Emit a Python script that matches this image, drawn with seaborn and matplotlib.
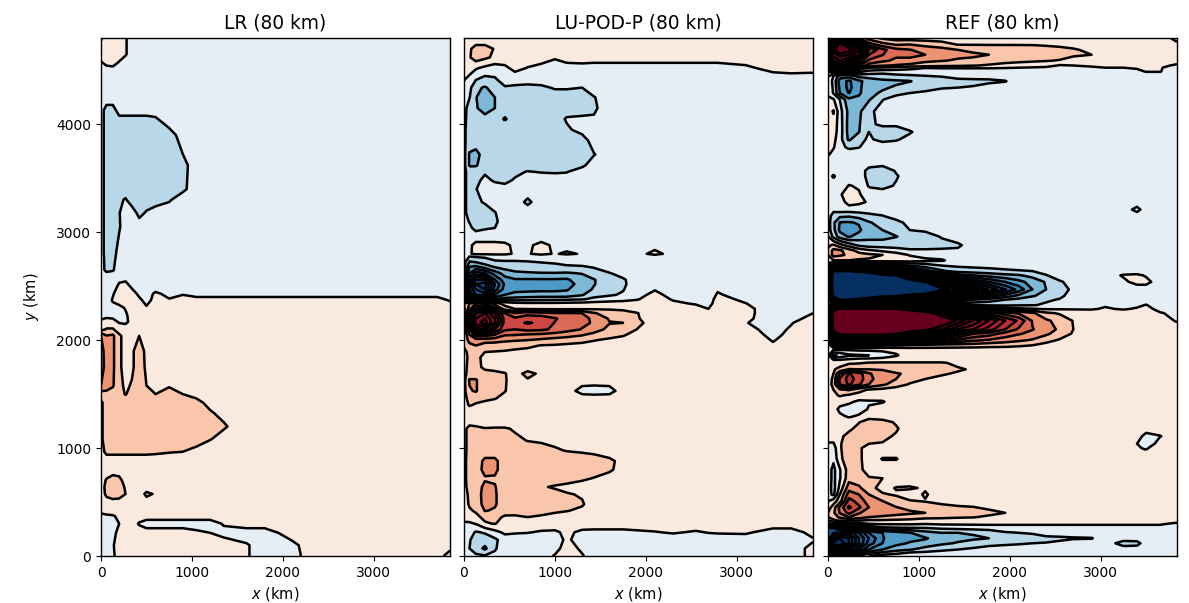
import numpy as np
import matplotlib
matplotlib.use("Agg")
import matplotlib.pyplot as plt
import seaborn as sns

p, n, s, b = .5, -.5, 1.5, -1.5

TITLES = ["LR (80 km)", "LU-POD-P (80 km)", "REF (80 km)"]
XTICKS = [0, 1000, 2000, 3000]
YTICKS = [0, 1000, 2000, 3000, 4000]
LEVELS = list(range(-12, 13))
BAND_SHADES = [.55, .64, .725, .785, .83, .865, .89, .91, .93, .945, .96, .975]

LR_X = [0, 60, 130, 200, 270, 340, 420, 500, 600, 750, 900, 1050, 1200, 1350, 1600, 1800, 2100, 2300, 3700, 3840]
LR_Z = {
    4800: [-.1, p, p, p, .1, n], 4650: [p, p, p, p, .1, n], 4570: [-.1, .2, .3, -.1, n], 4480: [n], 4230: [n],
    4130: [n, b, b, n], 4030: [n, b, b, b, b, b, b, b, -1.3, n], 3900: [n, b, b, b, b, b, b, b, b, b, n],
    3620: [n, b, b, b, b, b, b, b, b, b, -1.3, n], 3400: [n, b, b, b, b, b, b, b, b, b, -1.2, n],
    3300: [n, b, b, -1.2, -.9, b, b, b, b, -1.1, n], 3180: [n, b, b, -1.05, n, n, -1.3, -.9, n],
    3050: [n, b, b, -1.1, n], 2830: [n, b, -1.4, -.7, n], 2650: [n, -1.3, -1.1, n], 2600: [n],
    2490: [n, n, n, .3, p, -.1, n], 2430: [n, n, -.1, p, p, .4, -.2, n, .2, -.3, -.1, n],
    2370: [n, n, .1, p, p, p, .2, -.3, .3, .1, p, p, p, p, p, p, p, p, p, -.1],
    2300: [n, n, -.3, -.3, .1, p, p, .1, .3, p], 2230: [-.2, -.2, -.3, -.3, -.2, p],
    2170: [.1, .3, .3, -.1, -.2, .3, p], 2100: [.6, 1.1, 1.1, p],
    2040: [3, 2.05, 2.2, 1.2, .6, .6, 1.0, p], 1900: [3.6, 2.3, 2.2, 1.2, .6, .8, 1.6, .7, p],
    1750: [3.8, 2.3, 2.2, 1.2, .6, .8, 1.6, .8, p], 1580: [3, 2.15, 2.1, 1.3, .8, 1.1, 1.6, 1.0, .8, .95, p],
    1500: [1.5, 1.9, 1.6, 1.3, .95, 1.3, 1.6, 1.2, 1.0, 1.2, 1.0, .8, p],
    1420: [.8, s, s, s, s, s, s, s, s, s, s, 1.2, .8, p], 1320: [.8, s, s, s, s, s, s, s, s, s, s, s, 1.1, .8, p],
    1200: [.8, s, s, s, s, s, s, s, s, s, s, s, s, 1.1, p], 1085: [.8, s, s, s, s, s, s, s, s, s, s, 1.3, 1.05, .7, p],
    966: [.7, 1.2, 1.2, 1.2, 1.2, 1.2, 1.2, 1.2, 1.15, 1.05, 1.0, .8, p], 870: [p], 800: [p],
    700: [p, 1.1, 1.5, 1.3, .6, p], 640: [p, 1.3, 1.6, 1.4, .9, p], 575: [p, 1.2, 1.5, 1.4, 1.0, p, p, 1.2, .9, p],
    480: [p], 420: [p], 370: [n, -.2, -.1, .2, p],
    300: [n, n, n, 0, p, p, -.1, n, n, n, n, n, n, .1, p],
    215: [n, n, n, p, p, p, p, p, p, p, p, .2, 0, -.3, n, n, p],
    100: [n, n, -.1, *[p] * 11, .1, n, -.3, p],
    0: [n, n, -.2, *[p] * 11, .1, n, n, p, p, n],
}

LU_X = [0, 60, 130, 230, 340, 450, 560, 700, 850, 1000, 1130, 1300, 1430, 1600, 1750, 1900, 2100, 2300, 2550, 2690, 2790, 3100, 3400, 3600, 3840]
LU_Z = {
    4800: [p], 4770: [p], 4700: [p, .8, s, s, .9, p], 4620: [p, .9, s, 1.2, .8, p, p, p, p, .1, .3, p],
    4520: [p, p, .1, -.25, n, -.2, .25, -.05, -.35, n, -.3, -.4, *[n] * 9, -.2, .3, .45, .36],
    4420: [.1, -.3, -.9, -1.3, -1.1, n], 4340: [n, -.7, -1.8, -2.1, -1.6, -1.1, -1.2, -1.3, -1.2, -.9, -.9, -1, n],
    4250: [n, -.95, -1.95, -2.6, -2, b, b, b, b, b, b, b, -1.05, n], 4150: [-.6, b, -1.9, -2.4, -2, b, b, b, b, b, b, b, -1.15, n],
    4050: [-.7, b, b, -1.7, b, -2.1, b, b, b, b, -.9, -.8, -.9, n], 3950: [-.8, b, b, b, b, b, b, b, b, b, -1.15, -.7, n],
    3850: [-.8, b, b, b, b, b, b, b, b, b, b, -1.4, -.6, n], 3720: [-.7, -2.1, -2.3, -1.6, b, b, b, b, b, b, b, b, -1.05, n],
    3620: [-.7, -2.1, -2.1, b, b, b, b, b, b, b, b, -1.2, n], 3560: [-.7, b, -1.4, -1.1, -1.2, -1.3, -1.2, -.95, -1.05, -1.1, -1.05, n],
    3480: [-.7, b, -1.2, -.8, -1.1, -1.2, -.9, n], 3400: [-.7, b, -1.05, n, -.6, -.7, n], 3280: [-.7, b, -1.2, -.9, n, n, n, -1.2, n],
    3180: [-.7, b, -1.3, b, -1.05, n], 3100: [-.7, -1.05, -1.3, b, -1.2, n], 3040: [n, -.8, -1.3, -1.1, -1, n], 2960: [n],
    2880: [n, -.2, .3, .3, .3, .2, -.2, -.2, .3, -.2, n], 2800: [n, -.1, .2, .2, .2, .2, -.1, -.1, .3, -.1, .2, -.1, n, n, n, n, .4, n],
    2780: [n, -.9, -.8, -.8, n], 2730: [-.6, -2, -1.8, -1.4, -1.1, -1.05, -1.05, -1, -.9, -.8, n, n, n, n, n, n, -.05, n],
    2680: [-.7, -3, -3.2, -2.5, -1.9, -1.6, -1.5, -1.5, -1.4, -1.3, -1.2, -1.1, -.9, n],
    2620: [-.9, -4, -5.5, -5, -3.5, -2.6, -2.2, -2.1, -2.05, -2.05, -2.1, -1.95, -1.5, -1.05, -.7, n],
    2560: [-1, -5.5, -8, -8, -5, -3.4, -3.1, -3.1, -3.1, -3.1, -3.15, -2.4, -2.05, -1.5, -1.1, -.6, n],
    2520: [-1, -6, -9, -9.5, -6, -3.8, -3.3, -3.3, -3.3, -3.3, -3.3, -2.7, -2.05, -1.5, -1.1, -.7, n],
    2470: [-.9, -6, -8, -9, -5.5, -3.5, -3.2, -3.2, -3.2, -3.2, -3.1, -2.4, -1.9, -1.3, -1.05, n, -.05, n, n, n, -.1, n],
    2420: [-.7, -5, -7, -7.5, -4, -3, -2.8, -2.7, -2.6, -2.6, -2.6, -2.1, -1.3, -1.1, -.9, -.3, .25, -.3, n, n, .1, -.4, n],
    2380: [-.4, -3, -3, -3, -2, -1.6, -1.5, -1.4, -1.3, -1.3, -1.2, -1.1, -.8, -.6, -.4, -.1, p, -.1, -.4, -.4, .3, -.2, n],
    2340: [1, 2, 3, 3, 1.5, .6, .3, .2, .2, .2, .25, .3, .4, p, p, p, p, .2, -.1, -.3, .4, .02, n],
    2290: [.8, 2.5, 5, 6, 3.5, 1.5, 1, .9, .85, .85, .85, .85, .9, .9, .85, .6, p, p, .4, 0, p, .25, n],
    2250: [1, 4, 8, 9, 7, 4, 3.1, 3.6, 3.4, 3.1, 3.1, 3, 2.1, 1.5, 1.3, 1.05, p, p, p, p, p, .25, n, n, 0],
    2200: [1.5, 5, 9, 10, 8, 4.5, 4.2, 4.6, 4.6, 4.1, 3.6, 3.3, 2.8, 1.9, 1.4, 1.1, p, p, p, p, p, .2, n, -.3, .3],
    2160: [1.5, 5, 9.5, 10.5, 8, 4.5, 4.7, 5.1, 4.8, 3.95, 3.5, 3.2, 2.9, 2.05, 2, 1.3, p, p, p, p, p, .05, n, -.05, p],
    2100: [1.3, 4, 7.5, 8, 6, 4.2, 4, 4.3, 4.2, 3.8, 3.4, 2.95, 2.5, 1.7, 1.3, 1, p, p, p, p, p, .25, -.3, .1, p],
    2050: [1.1, 3, 4.5, 4.5, 4, 3.1, 3.05, 2.9, 2.8, 2.6, 2.4, 2.1, 1.7, 1.4, 1.1, .7, p, p, p, p, p, .4, -.2, .2, p],
    2000: [1, 2.5, 2.5, 2.5, 2.4, 2.2, 2.1, 2, 1.8, 1.6, 1.5, 1.3, 1.05, .8, .7, p, p, p, p, p, p, p, -.05, .3, p],
    1950: [1.05, 1.6, 2, 1.5, 1.5, 1.4, 1.3, 1.2, .95, .9, .8, .7, .6, p, p, p, p, p, p, p, p, p, .1, .4, p],
    1890: [.9, 1.1, 1.05, 1, .95, .9, .8, .7, p], 1840: [p, 1.3, 1.3, .7, p], 1750: [.7, 1.3, 1.3, .8, .7, .6, p],
    1690: [.7, 1.4, 1.4, 1.3, 1.2, 1.05, .6, 1.3, .8, p], 1630: [.7, 2.1, 2.1, 1.3, 1.3, 1.1, p, .9, p],
    1530: [.7, 1.9, 2.1, 1.3, 1.3, 1.05, p, p, p, p, p, -.4, n, -.4, p], 1460: [.7, 1.3, 1.3, 1.2, 1.05, .7, p],
    1400: [.6, 1.1, .9, .7, p], 1340: [p], 1240: [p], 1180: [.6, 1.5, 1.3, 1.05, 1.1, 1.1, .9, p],
    1070: [.6, s, s, s, s, s, 1.2, .97, .9, .8, p], 980: [.6, s, s, s, s, s, s, s, 1.3, 1.1, .95, .85, .7, p],
    880: [.7, s, s, 2.2, 2.2, s, s, s, s, s, s, s, s, 1.2, .7, p], 800: [.7, s, s, 2.3, 2.2, s, s, s, s, s, s, s, s, 1.2, p],
    720: [.7, s, s, 1.9, 1.9, s, s, s, s, s, s, 1.2, .95, p], 640: [.6, s, 1.6, 2.2, 2.05, s, s, 1.2, 1.1, .9, .7, p],
    570: [.6, 1.2, 1.6, 2.3, 2.1, s, s, s, s, 1.3, 1.1, .9, p], 480: [.6, 1.1, s, 2.3, 2.1, s, s, s, s, s, 1.4, 1.1, p],
    420: [p, .9, 1.1, 2.05, 1.9, 1.3, 1.25, 1.3, 1.25, 1.15, 1.05, .8, p], 360: [p, p, .8, 1.2, 1.2, .9, .9, 1, .9, .7, p],
    300: [-.2, -.15, .05, .9, 1.05, .6, p],
    220: [n, -.6, -1.1, -.9, -.3, .2, .1, .05, -.1, -.15, .2, -.2, -.25, -.25, -.25, -.15, -.05, .1, -.1, .05, .1, .15, -.4, -.4, .3],
    150: [n, -.9, b, b, -1.2, *[n] * 5, .2, *[n] * 13, -.1], 70: [n, -1, b, -2.2, -1.1, n, n, n, n, -.4, p, -.2, *[n] * 12, .3],
    0: [n, n, -.8, -.9, -.8, n, n, n, n, .1, p, .1, *[n] * 12, .3],
}

REF_X = [0, 60, 130, 230, 340, 450, 600, 750, 900, 1070, 1250, 1430, 1600, 1770, 1950, 2100, 2250, 2400, 2550, 2700, 2900, 3050, 3250, 3400, 3500, 3650, 3840]
REF_Z = {
    4800: [3, 5, 6, 5, 3, 1.5, .8, *[p] * 19, -.3],
    4740: [8, 10, 12.5, 11, 8, 3.5, 2.4, 1.9, 2, 1.7, 1.4, .95, .95, .95, .95, .95, .95, .9, .8, .7, p, p, p, p, p, p, .2],
    4690: [9, 11.5, 14, 12.5, 10, 6, 4.3, 3.3, 3.05, 2.6, 2.4, 2, 1.8, 1.55, 1.5, 1.45, 1.4, 1.3, 1.25, 1.1, .8, p],
    4645: [8, 10.5, 11.5, 11, 9, 5, 4.05, 3.2, 3.05, 3, 2.5, 2.2, 2.15, 2, 1.7, 1.6, 1.5, 1.4, 1.3, 1.2, 1, p],
    4590: [7, 9, 10, 9, 6, 3.8, 3.2, 2.8, 2.95, 2.2, 2.05, 1.9, 1.8, 1.45, 1.3, 1.2, 1.1, 1.05, .95, p],
    4545: [4, 7, 8, 6, 4, 2.5, 2.1, 1.9, 1.6, 1.5, 1.3, 1.2, 1.05, .9, .7, .6, .6, .4, -.1, 0, .1, .2, .2, .3, .3, .3, -.2],
    4525: [2, 4, 5, 3.5, 2, 1, .9, .7, .4, .05, .1, .1, .1, .1, .05, 0, -.1, -.2, n, n, -.1, 0, 0, .1, .1, .1, n],
    4490: [1, 2.5, 2, 1, .3, -.3, *[n] * 16, -.3, -.2, .05, .05, n],
    4450: [.2, -1, -2.5, -2.5, -1.6, -1.5, -1.5, -1.2, -1.1, -1, -.9, n],
    4400: [n, -1.2, -3.5, -4.2, -3.2, -2.6, -2.2, -2.15, -2.05, -1.6, -1.5, -1.4, -1.3, -1.25, -1.05, n],
    4340: [n, -1.1, -3.2, -4.3, -3.2, -2.4, -2.1, -1.9, -1.5, -1.3, -1.1, -1, -.9, n],
    4290: [-.1, -1.1, -3, -4.05, -3.2, -2.2, -1.9, -1.3, -1, -.85, n], 4230: [.1, .1, -1, -2.8, -2.7, -2.1, -1.05, n],
    4120: [p, 1.1, -.6, -2.3, -2.2, -1.3, n], 4000: [p, .6, n, -2.4, -2.1, -1.1, -.9, -.9, n],
    3930: [p, p, n, -2.4, -2.05, -1, -1.3, -1.3, -1.1, n], 3860: [p, .3, -.6, -2.2, -1.2, -.9, -1.2, -1.1, -.7, n],
    3790: [.3, .1, -.7, -1.2, -1.05, -.6, -.6, n], 3720: [.1, -.3, n], 3650: [n], 3570: [n, n, n, n, n, -1.3, -1.6, -.9, n],
    3520: [n, -1.15, n, n, n, -1.3, -1.6, -1.1, n], 3430: [n, n, n, .05, -.1, -1.1, -1.3, -.9, n], 3350: [n, n, -.1, .4, .1, n],
    3280: [n, n, n, .4, .2, -.1, n], 3210: [n, -.7, *[n] * 21, .3, n, n, n],
    3150: [n, -1.5, -1.8, -1.9, -1.6, -1.3, -1.05, -.6, n], 3090: [n, -1.8, -3.05, -3.1, -2.9, -2.1, -1.6, -1.3, -.7, n],
    3020: [n, -1.7, -3.2, -3.5, -3.2, -2.3, -2, -1.5, -1, -.9, -.7, n], 2960: [.1, -1.3, -2.5, -3.1, -2.6, -2.3, -2.3, -2.05, -1.5, -1.3, -.95, -.7, n],
    2880: [.8, 1.2, .4, -.4, -1.2, -1.5, -1.5, -1.3, -1.3, -1.3, -1.2, -1.1, -.7, n],
    2830: [1.2, 2.3, 2.2, 1.5, .6, .2, -.2, -.7, -.9, -.9, -.9, -.9, -.7, n], 2790: [1, 2.4, 2.2, 1.8, 1.4, 1.2, 1, .7, -.1, n],
    2740: [.8, 1, 1, 1, .9, .9, .8, .7, .6, .3, .1, -.4, n], 2710: [0, -2, -3, -3, -3, -2.5, -2, -1.5, -1.1, -.9, -.5, n],
    2680: [-1, -5, -7, -7, -7, -6, -4, -3, -2.5, -1.9, -1.3, -1, -.9, -.8, -.7, -.6, n],
    2640: [-4, -12, -12, -12, -11.5, -11, -9, -7, -5, -3.5, -2.2, -1.6, -1.5, -1.4, -1.2, -1.1, -1, -.7, n],
    2600: [-5, -14, -14, -14, -14, -14, -12.5, -12, -10, -8, -5, -3.5, -3, -2.6, -2.3, -2.1, -1.7, -1.05, -.6, n, n, n, .1, .2, -.1, n, n],
    2540: [-5, -14, -14, -14, -14, -14, -14, -13, -13, -12, -9, -7, -6, -5, -4, -3.3, -2.6, -1.9, -1.1, -.7, n, n, -.2, .3, .3, n, n],
    2470: [-5, -14, -15, -15, -15, -15, -15, -15, -14.5, -14, -12.5, -11.4, -9.6, -7.9, -6.1, -4.6, -3, -2, -1.4, -.8, n],
    2410: [-3, -13, -14, -13.5, -13.5, -13, -12.5, -12, -11.5, -11, -9, -7, -5.5, -4.5, -3.5, -2.7, -2.1, -1.6, -1.15, -.7, n],
    2375: [-1, -9, -12, -12, -11.5, -11, -9, -7, -5.5, -5, -4.5, -4, -3, -2.5, -2, -1.7, -1.3, -1.1, -.95, -.4, n],
    2325: [.2, .1, -1, -1, -.8, -.5, -.3, -.3, -.5, -.6, -.8, -1, -1.1, -1.2, -1.2, -1.1, -1.05, -.9, -.6, n, n, -.1, -.3, -.2, .05, n, n],
    2290: [2, 10, 13, 13, 13, 13, 12.5, 12, 11, 10, 8, 5, 3.5, 1.5, .6, .2, .05, -.1, -.1, -.1, -.1, .1, -.1, .1, .3, -.3, n],
    2250: [3, 14, 15, 15, 15, 15, 15, 14.5, 14, 13, 11, 8, 6, 4.5, 3.5, 2.9, 2.2, 1.2, .9, .7, p, p, p, p, p, .1, -.3],
    2180: [4, 14, 16, 16, 16, 16, 16, 16, 16, 15, 13.5, 11.8, 9.9, 8, 6, 4.8, 2.9, 2.2, 1.6, .95, p, p, p, p, p, p, -.1],
    2100: [3, 13, 15, 15, 15, 15, 15, 14, 13, 12.5, 11, 9, 8, 6.5, 5, 3.8, 3.05, 2.5, 1.8, 1, p],
    2060: [2, 10, 12.5, 13, 13, 13, 13, 12, 11, 10, 8, 6.5, 5, 4.5, 3.6, 3.1, 2.7, 2.2, 1.5, .9, p],
    2000: [1, 5, 7, 7, 7, 7, 7, 6.5, 6, 5.5, 4.5, 3.8, 3.2, 2.9, 2.5, 2.2, 1.9, 1.3, .9, .7, p],
    1960: [p, 3, 3, 3, 3, 3, 2.5, 2.5, 2.2, 2.1, 2, 1.9, 1.8, 1.6, 1.5, 1.3, 1.1, .8, p],
    1915: [p, .2, .2, .2, .3, .3, .3, .3, p], 1860: [.3, -2.2, -1.8, -1.2, -1.1, -1, -.6, -.1, p], 1815: [p, .1, .1, .3, p],
    1790: [p, p, p, .8, .9, 1.05, 1.1, 1.1, 1.1, 1.1, 1.1, .8, p], 1730: [p, .9, 1.3, 2.05, 2, 2, 1.9, 1.5, 1.4, 1.3, 1.2, 1.1, .9, p],
    1690: [p, 1, 3, 5.1, 4.5, 3.1, 2.5, 2.1, 1.8, 1.5, 1.1, .9, p], 1640: [p, 1.2, 4.2, 5.4, 4.6, 3.2, 2.6, 2, 1.4, 1, .8, p],
    1590: [p, 1.3, 4, 5.2, 4.2, 3, 2.2, 1.5, .9, p], 1540: [p, 1, 1.8, 2.1, 1.3, .9, .7, p], 1490: [p, .8, 1.1, .9, .7, p],
    1430: [p, p, p, .2, -.2, -.1, -.08, p], 1360: [p, p, -.3, n, n, .1, p], 1300: [p, p, .2, -.2, .1, p],
    1240: [p, p, p, p, .95, s, 1.3, .9, p], 1180: [p, p, p, .8, 1.3, s, s, 1.1, p],
    1110: [p, p, .8, 1.3, s, s, 1.2, .9, *[p] * 16, -.4, -.05, p], 1040: [-.1, -.1, .9, s, s, 1, .95, *[p] * 16, 0, n, .3, p],
    1000: [n, n, .9, s, 1.2, p, *[p] * 17, .1, -.1, p, p], 900: [n, -.8, .8, s, 1.2, p, 1.05, 1.05, p],
    800: [n, -1.3, -.1, 1.5, 1.3, p], 720: [n, -1.3, -.1, 1.6, 1.4, 1.1, 1, p], 630: [n, -1.4, .3, 2.6, 2.2, 1.3, .7, 1.05, 1.1, .9, p],
    570: [n, -1.3, 1, 3.5, 3, 2, 1.1, .9, .6, 1.1, p], 510: [-.1, .5, 1.5, 4.4, 3.6, 2.5, 2, 1.4, 1.05, .95, .7, p],
    450: [p, 1.5, 3.3, 5.2, 4.2, 3, 2.2, 2.05, 1.7, 1.4, 1.3, 1.15, 1.05, .8, p],
    400: [1, 1.8, 3.1, 4.3, 3.1, 2.5, 2.3, 2.2, 2.2, 2, 1.6, 1.5, 1.4, 1.3, 1, .7, p],
    360: [1, 1.5, 2.2, 3, 2.5, 2, 1.9, 1.8, 1.4, 1.2, 1.2, 1.1, 1.05, .8, p], 330: [0, .8, 1.2, 1.1, 1.1, .9, .9, .8, .8, .7, .6, .55, p],
    300: [-1, -1, -1, -.5, -.3, .1, .2, .2, .2, .1, *[.2] * 16, -.2], 260: [-8, -8, -7, -6, -4, -2, -1.2, -1.1, -1.05, -1, -.8, -.7, -.6, n],
    215: [-8, -9, -9, -9, -7, -5, -4, -3.5, -3.05, -2.4, -2, -2, -1.9, -1.7, -1.1, -1, -.9, n],
    164: [-8, -11, -12, -11, -8, -6, -4.05, -3.6, -3.3, -3.1, -2.5, -2.3, -2.15, -2, -1.7, -1.55, -1.4, -1.3, -1.2, -1.1, -1.05, n, -.55, -.55, n, n, n],
    118: [-9, -12.5, -13, -11, -8, -5.5, -4, -3.3, -2.9, -2.6, -2.2, -1.9, -1.6, -1.4, -1.2, -1.1, -1, -.95, -.8, n, n, n, -1.4, -1.3, n, n, n],
    60: [-6, -10, -10, -8, -6, -4, -3, -2.4, -2.1, -1.6, -1.2, -1, -.8, n], 20: [-3, -6, -5, -4, -3, -2, -1.4, -1, n], 0: [-1, -2, -2, -2, -1.5, -1, n],
}


def table(rows, width):
    ys = sorted(rows)
    filled = [list(rows[y]) + [rows[y][-1]] * (width - len(rows[y])) for y in ys]
    return np.array(ys, float), np.array(filled, float)


sns.set_theme(style="ticks", rc={"axes.grid": False, "font.family": "DejaVu Sans", "axes.edgecolor": "black",
                                 "xtick.color": "black", "ytick.color": "black", "text.color": "black",
                                 "axes.labelcolor": "black", "axes.linewidth": 1.0, "mathtext.fontset": "dejavusans"})
cmap = sns.color_palette("RdBu_r", as_cmap=True)
pos = [cmap(f) for f in BAND_SHADES]
neg = [cmap(1 - f) for f in BAND_SHADES]
fill_colors = [cmap(0.0)] + neg[::-1] + pos + [cmap(1.0)]

W, H = 1189, 603
fig = plt.figure(figsize=(W / 100, H / 100), dpi=100)
lefts = [101, 464, 828]
for i, (title, xs, rows) in enumerate(zip(TITLES, [LR_X, LU_X, REF_X], [LR_Z, LU_Z, REF_Z])):
    ax = fig.add_axes([lefts[i] / W, (H - 556) / H, 349 / W, 518 / H])
    ys, z = table(rows, len(xs))
    ax.contourf(xs, ys, z, levels=LEVELS, colors=fill_colors, extend="both")
    ax.contour(xs, ys, z, levels=LEVELS, colors="black", linewidths=1.8, linestyles="solid")
    ax.set_xlim(0, 3840)
    ax.set_ylim(0, 4800)
    ax.set_xticks(XTICKS)
    ax.set_yticks(YTICKS)
    ax.tick_params(labelsize=10, length=3.5, width=0.8)
    ax.set_title(title, fontsize=13.4, pad=7)
    ax.set_xlabel("$x$ (km)", fontsize=10.5, labelpad=4)
    if i == 0:
        ax.set_ylabel("$y$ (km)", fontsize=10.5, labelpad=11)
    else:
        ax.tick_params(labelleft=False)
fig.savefig("out.png", dpi=100)
